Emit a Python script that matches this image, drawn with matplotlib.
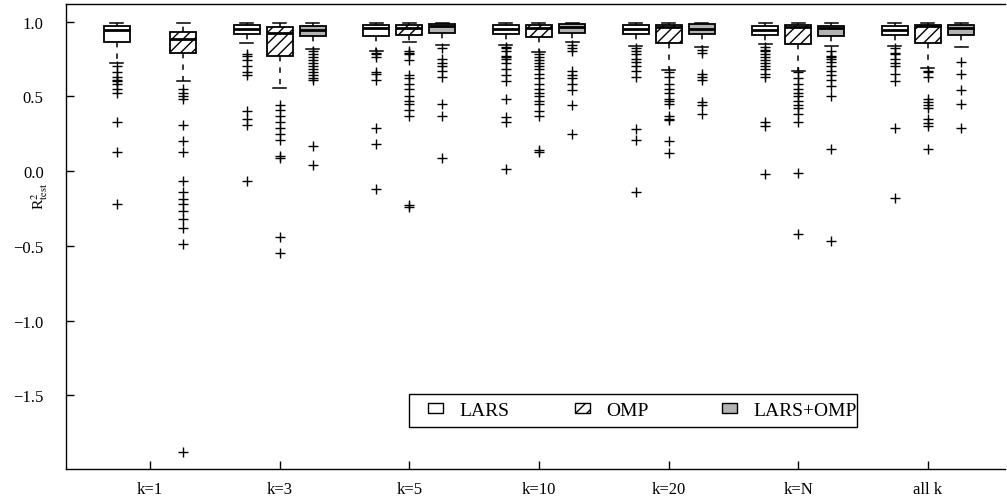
import matplotlib
matplotlib.use("Agg")
import matplotlib.pyplot as plt
from matplotlib.patches import Patch, Rectangle
from matplotlib.legend import Legend

plt.rcParams['font.family'] = ['Liberation Serif', 'DejaVu Serif']
plt.rcParams['mathtext.fontset'] = 'stix'
plt.rcParams['hatch.linewidth'] = 1.0

groups = ["k=1", "k=3", "k=5", "k=10", "k=20", "k=N", "all k"]
methods = ["LARS", "OMP", "LARS+OMP"]

# ---- LARS ----
lars_q1 = [0.860, 0.917, 0.900, 0.917, 0.917, 0.910, 0.912]
lars_med = [0.943, 0.950, 0.957, 0.950, 0.950, 0.945, 0.945]
lars_q3 = [0.968, 0.977, 0.977, 0.977, 0.977, 0.972, 0.972]
lars_lo = [0.722, 0.855, 0.800, 0.840, 0.835, 0.850, 0.835]
lars_hi = [0.990, 0.990, 0.990, 0.990, 0.990, 0.990, 0.990]
lars_fliers = [
    [0.70, 0.66, 0.63, 0.61, 0.60, 0.58, 0.55, 0.52, 0.33, 0.13, -0.22],
    [0.78, 0.77, 0.74, 0.70, 0.66, 0.64, 0.40, 0.35, 0.31, -0.065],
    [0.79, 0.78, 0.76, 0.66, 0.65, 0.61, 0.29, 0.18, -0.12],
    [0.83, 0.82, 0.80, 0.77, 0.76, 0.75, 0.72, 0.68, 0.64, 0.60, 0.48, 0.36, 0.33, 0.013],
    [0.82, 0.80, 0.78, 0.75, 0.73, 0.70, 0.67, 0.63, 0.28, 0.21, -0.14],
    [0.83, 0.81, 0.80, 0.78, 0.76, 0.74, 0.72, 0.70, 0.68, 0.65, 0.63, 0.33, 0.30, -0.02],
    [0.82, 0.79, 0.78, 0.75, 0.72, 0.70, 0.65, 0.60, 0.29, -0.18],
]

# ---- OMP ----
omp_q1 = [0.790, 0.770, 0.910, 0.895, 0.856, 0.850, 0.856]
omp_med = [0.883, 0.923, 0.955, 0.957, 0.960, 0.960, 0.968]
omp_q3 = [0.932, 0.960, 0.977, 0.977, 0.977, 0.977, 0.977]
omp_lo = [0.604, 0.553, 0.860, 0.795, 0.678, 0.670, 0.687]
omp_hi = [0.990, 0.990, 0.990, 0.990, 0.990, 0.990, 0.990]
omp_fliers = [
    [0.55, 0.52, 0.50, 0.48, 0.31, 0.20, 0.13, -0.07, -0.14, -0.19, -0.22, -0.27,
     -0.32, -0.38, -0.49, -1.88],
    [0.44, 0.41, 0.37, 0.33, 0.29, 0.25, 0.21, 0.10, 0.09, -0.44, -0.55],
    [0.80, 0.79, 0.78, 0.74, 0.64, 0.62, 0.58, 0.55, 0.50, 0.47, 0.45, 0.41, 0.37,
     -0.23, -0.24],
    [0.78, 0.76, 0.74, 0.72, 0.70, 0.68, 0.65, 0.62, 0.58, 0.55, 0.52, 0.50, 0.47,
     0.45, 0.40, 0.37, 0.14, 0.13],
    [0.66, 0.63, 0.58, 0.55, 0.52, 0.48, 0.47, 0.45, 0.37, 0.35, 0.34, 0.20, 0.12],
    [0.66, 0.62, 0.58, 0.55, 0.52, 0.50, 0.47, 0.44, 0.42, 0.38, 0.33, -0.01, -0.42],
    [0.67, 0.66, 0.63, 0.48, 0.46, 0.44, 0.42, 0.35, 0.32, 0.30, 0.147],
]

# ---- LARS+OMP (no box for k=1) ----
lo_q1 = [None, 0.900, 0.923, 0.923, 0.917, 0.900, 0.910]
lo_med = [None, 0.945, 0.970, 0.960, 0.950, 0.957, 0.957]
lo_q3 = [None, 0.968, 0.983, 0.983, 0.983, 0.972, 0.977]
lo_lo = [None, 0.815, 0.840, 0.860, 0.828, 0.835, 0.830]
lo_hi = [None, 0.990, 0.990, 0.990, 0.990, 0.990, 0.990]
lo_fliers = [
    None,
    [0.80, 0.78, 0.76, 0.74, 0.72, 0.70, 0.68, 0.66, 0.64, 0.62, 0.61, 0.165, 0.04],
    [0.82, 0.75, 0.72, 0.70, 0.67, 0.63, 0.45, 0.37, 0.09],
    [0.84, 0.82, 0.80, 0.67, 0.64, 0.62, 0.58, 0.54, 0.44, 0.25],
    [0.81, 0.79, 0.65, 0.63, 0.61, 0.46, 0.44, 0.38],
    [0.80, 0.77, 0.76, 0.75, 0.73, 0.70, 0.67, 0.64, 0.61, 0.57, 0.50, 0.147, -0.47],
    [0.727, 0.65, 0.54, 0.45, 0.29],
]

yticks = [-1.5, -1.0, -0.5, 0.0, 0.5, 1.0]

series = [
    (lars_q1, lars_med, lars_q3, lars_lo, lars_hi, lars_fliers),
    (omp_q1, omp_med, omp_q3, omp_lo, omp_hi, omp_fliers),
    (lo_q1, lo_med, lo_q3, lo_lo, lo_hi, lo_fliers),
]
styles = [
    dict(facecolor="white", hatch=None),
    dict(facecolor="white", hatch="///"),
    dict(facecolor="#b3b3b3", hatch=None),
]

fig = plt.figure(figsize=(10.07, 5.02), dpi=100)
ax = fig.add_axes([0.0655, 0.0637, 0.9325, 0.9263])

slot = 0.255
width = 0.2
for m, (q1, med, q3, lo, hi, fl) in enumerate(series):
    for g in range(len(groups)):
        if q1[g] is None:
            continue
        off = m - 1
        # k=1 has no LARS+OMP: OMP takes the right slot
        if m == 1 and series[2][0][g] is None:
            off = 1
        pos = g + off * slot
        stat = dict(med=med[g], q1=q1[g], q3=q3[g], whislo=lo[g], whishi=hi[g],
                    fliers=fl[g])
        bp = ax.bxp([stat], positions=[pos], widths=width, patch_artist=True,
                    showfliers=True, capwidths=[width * 0.5],
                    boxprops=dict(edgecolor="black", linewidth=1.3,
                                  facecolor=styles[m]["facecolor"]),
                    medianprops=dict(color="black", linewidth=2.0),
                    whiskerprops=dict(color="black", linewidth=1.1,
                                      linestyle=(0, (3.5, 4))),
                    capprops=dict(color="black", linewidth=1.1),
                    flierprops=dict(marker="+", markersize=7, markeredgewidth=1.0,
                                    markeredgecolor="black", linestyle="none"))
        if styles[m]["hatch"]:
            for b in bp["boxes"]:
                b.set_hatch(styles[m]["hatch"])

ax.set_xlim(-0.648, 6.594)
ax.set_ylim(-1.993, 1.117)
ax.set_xticks(range(len(groups)))
ax.set_xticklabels(groups)
ax.set_yticks(yticks)
ax.set_yticklabels([f"{v:.1f}".replace("-", "\u2212") for v in yticks])
ax.tick_params(direction="in", length=6, width=1, labelsize=12)
ax.tick_params(axis="x", pad=8.5)
ax.tick_params(axis="y", pad=16)
ax.spines["right"].set_visible(False)
for s in ["left", "bottom", "top"]:
    ax.spines[s].set_linewidth(1.0)
ax.set_ylabel(r"R$^2_{\mathrm{test}}$", fontsize=11)
ax.yaxis.set_label_coords(-0.017, 0.588)

# legend: frame plus three evenly spaced entries
ax.add_patch(Rectangle((0.3653, 0.0903), 0.8424 - 0.3653, 0.1613 - 0.0903,
                       transform=ax.transAxes, facecolor="white",
                       edgecolor="black", linewidth=1.0, zorder=5))
entry_x = [0.3855, 0.5421, 0.6986]
for i, (st, name) in enumerate(zip(styles, methods)):
    h = Patch(facecolor=st["facecolor"], edgecolor="black", hatch=st["hatch"],
              linewidth=1.0)
    lg = Legend(ax, [h], [name], loc="center left",
                bbox_to_anchor=(entry_x[i], 0.1258), frameon=False,
                fontsize=14, handlelength=0.75, handleheight=0.45,
                handletextpad=0.85, borderpad=0.0, borderaxespad=0.0)
    lg.set_zorder(6)
    ax.add_artist(lg)

fig.savefig("out.png", dpi=100)
